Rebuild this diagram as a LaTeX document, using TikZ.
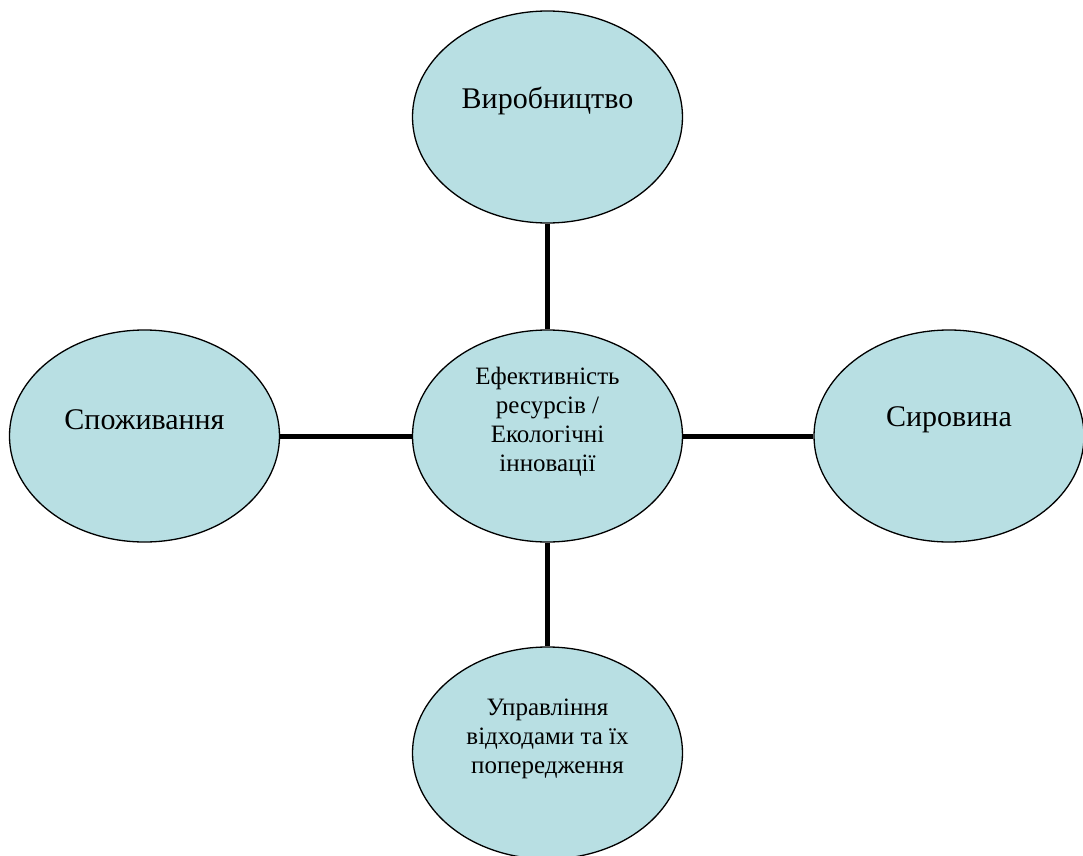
\documentclass[tikz,border=0pt]{standalone}
\usepackage{fontspec}
\setmainfont{Liberation Serif}
\usetikzlibrary{shapes.geometric}
\definecolor{bubblefill}{RGB}{184,223,227}

\begin{document}
\begin{tikzpicture} [x=1pt, y=1pt] %resource efficiency scheme
\tikzset{bubble/.style={ellipse, draw, line width=1.3pt, fill=bubblefill, minimum width=270pt, minimum height=212pt, inner sep=0pt},
  link/.style={line width=5pt},
  bigtxt/.style={font=\fontsize{30}{34.5}\selectfont, yshift=16pt},
  smalltxt/.style={font=\fontsize{25}{29}\selectfont, align=center, yshift=14pt}}
\useasboundingbox (-547.5,-419) rectangle (535.5,436);
\node[bubble] (mid) at (0,0) {};
\node[bubble] (prod) at (0,319) {};
\node[bubble] (cons) at (-403,0) {};
\node[bubble] (raw) at (401.5,0) {};
\node[bubble] (waste) at (0,-317) {};
\draw[link] (prod.south) -- (mid.north);
\draw[link] (mid.south) -- (waste.north);
\draw[link] (cons.east) -- (mid.west);
\draw[link] (mid.east) -- (raw.west);
\node[bigtxt] (prodtxt) at (prod) {Виробництво};
\node[bigtxt] (constxt) at (cons) {Споживання};
\node[bigtxt] (rawtxt) at (raw) {Сировина};
\node[smalltxt] (midtxt) at (mid) {Ефективність\\ресурсів /\\Екологічні\\інновації};
\node[smalltxt] (wastetxt) at (waste) {Управління\\відходами та їх\\попередження};
\end{tikzpicture}
\end{document}
